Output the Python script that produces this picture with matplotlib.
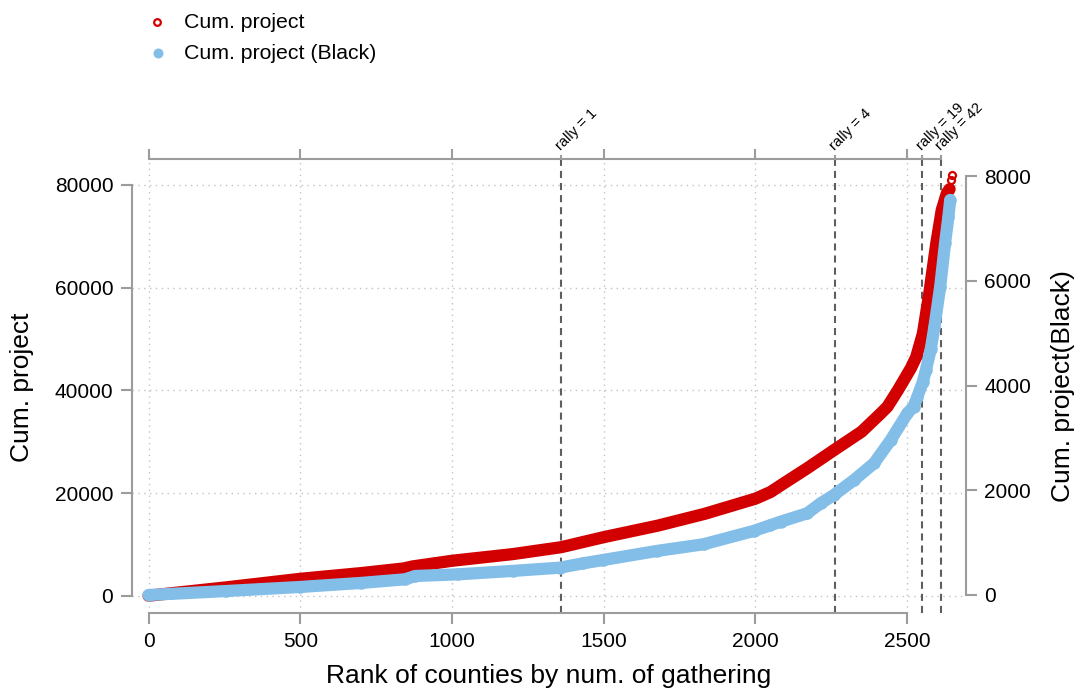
import matplotlib
matplotlib.use("Agg")
import matplotlib.pyplot as plt
from matplotlib.lines import Line2D

plt.rcParams['font.family'] = ['Liberation Sans', 'DejaVu Sans']

# Cumulative project totals, counties ranked by number of gatherings
rank_all = [0, 260, 500, 700, 840, 870, 1000, 1200, 1360, 1500, 1680, 1833,
            2000, 2050, 2085, 2170, 2260, 2350, 2413, 2435, 2470, 2512, 2530,
            2552, 2573, 2596, 2614, 2631, 2640]
cum_project = [0, 1650, 3290, 4400, 5300, 5700, 6800, 8100, 9450, 11400, 13670,
               15950, 18900, 20200, 21560, 24800, 28400, 31950, 35500, 36800,
               40070, 44290, 46500, 51100, 58900, 68600, 75100, 78400, 79200]
# Last few counties, drawn as separate circles
rank_tail = [2646, 2647]
cum_project_tail = [80970, 81950]

# Cumulative project totals for the Black population
rank_black = [0, 257, 499, 700, 846, 879, 1021, 1200, 1356, 1433, 1499, 1675,
              1829, 1994, 2049, 2083, 2171, 2215, 2259, 2325, 2391, 2446, 2501,
              2521, 2534, 2552, 2562, 2578, 2590, 2609, 2625, 2636, 2642]
cum_project_black = [0, 76, 153, 230, 300, 363, 395, 460, 522, 606, 669, 841,
                     969, 1223, 1332, 1400, 1561, 1752, 1911, 2197, 2516, 2961,
                     3472, 3598, 3789, 4075, 4299, 4700, 5126, 5890, 6720, 7228,
                     7547]

# Rank at which the number of rallies reaches each threshold
rally_rank = [1360, 2263, 2550, 2612]
rally_labels = ["rally = 1", "rally = 4", "rally = 19", "rally = 42"]

x_ticks = [0, 500, 1000, 1500, 2000, 2500]
y_ticks = [0, 20000, 40000, 60000, 80000]
y_ticks_black = [0, 2000, 4000, 6000, 8000]

RED = "#D20000"
BLUE = "#82BEE8"
AXIS_GREY = "#9C9C9C"
GRID_GREY = "#C2C2C2"
DASH_GREY = "#5E5E5E"

W, H = 1080, 690
fig = plt.figure(figsize=(W / 100, H / 100), dpi=100)
ax = fig.add_axes([132 / W, 1 - 613 / H, (966 - 132) / W, (613 - 158.5) / H])
ax.set_xlim(-54.4, 2694)
ax.set_ylim(-3370, 85157)
ax.patch.set_visible(False)

# dotted reference grid
for xv in x_ticks:
    ax.axvline(xv, color=GRID_GREY, lw=1.0, dashes=(1, 3.2), zorder=0)
for yv in y_ticks:
    ax.axhline(yv, color=GRID_GREY, lw=1.0, dashes=(1, 3.2), zorder=0)

# rally thresholds
for r in rally_rank:
    ax.axvline(r, color=DASH_GREY, lw=1.5, dashes=(3.4, 2.4), zorder=1)

ax.plot(rank_all, cum_project, color=RED, lw=8.8, solid_capstyle='round',
        solid_joinstyle='round', zorder=3)
ax.plot(rank_tail, cum_project_tail, ls='none', marker='o', ms=5, mfc='none',
        mec=RED, mew=1.6, zorder=3)

ax.set_xticks(x_ticks)
ax.set_yticks(y_ticks)
ax.set_xticklabels([str(v) for v in x_ticks])
ax.set_yticklabels([str(v) for v in y_ticks])
for side in ('top', 'right'):
    ax.spines[side].set_visible(False)
ax.spines['left'].set_bounds(0, 80000)
ax.spines['bottom'].set_bounds(0, 2500)
for side in ('left', 'bottom'):
    ax.spines[side].set_color(AXIS_GREY)
    ax.spines[side].set_linewidth(1.5)
ax.tick_params(axis='both', direction='out', length=8, width=1.5,
               color=AXIS_GREY, labelsize=15, labelcolor='black')
ax.tick_params(axis='y', pad=5.5)
ax.tick_params(axis='x', pad=6)

# right-hand axis for the Black population
axb = ax.twinx()
axb.set_ylim(-344, 8338)
axb.plot(rank_black, cum_project_black, color=BLUE, lw=8.8, marker='o', ms=9,
         mec='none', solid_capstyle='round', solid_joinstyle='round', zorder=3)
axb.set_yticks(y_ticks_black)
axb.set_yticklabels([str(v) for v in y_ticks_black])
for side in ('top', 'left', 'bottom'):
    axb.spines[side].set_visible(False)
axb.spines['right'].set_bounds(0, 8000)
axb.spines['right'].set_color(AXIS_GREY)
axb.spines['right'].set_linewidth(1.5)
axb.tick_params(axis='y', direction='out', length=8, width=1.5,
                color=AXIS_GREY, labelsize=15, labelcolor='black', pad=5)

# top axis carrying the rally markers
axt = ax.twiny()
axt.set_xlim(ax.get_xlim())
for side in ('bottom', 'left', 'right'):
    axt.spines[side].set_visible(False)
axt.spines['top'].set_bounds(0, rally_rank[-1])
axt.spines['top'].set_color(AXIS_GREY)
axt.spines['top'].set_linewidth(1.5)
axt.set_xticks(x_ticks)
axt.set_xticks(rally_rank, minor=True)
axt.tick_params(axis='x', which='major', direction='out', length=7, width=1.5,
                color=AXIS_GREY, labeltop=False)
axt.tick_params(axis='x', which='minor', direction='out', length=3, width=1.5,
                color=AXIS_GREY, labeltop=False)

for r, lab in zip(rally_rank, rally_labels):
    ax.annotate(lab, xy=(r, 1), xycoords=('data', 'axes fraction'),
                xytext=(1, 4), textcoords='offset points', rotation=45,
                rotation_mode='anchor', ha='left', va='bottom', fontsize=10.5,
                color='black')

# axis titles
fig.text(549 / W, 1 - 676 / H, "Rank of counties by num. of gathering",
         ha='center', va='center', fontsize=19)
fig.text(22 / W, 1 - 387 / H, "Cum. project", rotation=90,
         ha='center', va='center', fontsize=19)
fig.text(1063 / W, 1 - 386 / H, "Cum. project(Black)", rotation=90,
         ha='center', va='center', fontsize=19)

# legend
fig.add_artist(Line2D([157 / W], [1 - 21.7 / H], transform=fig.transFigure,
                      ls='none', marker='o', ms=4.8, mfc='none', mec=RED,
                      mew=1.6))
fig.add_artist(Line2D([157.5 / W], [1 - 52.8 / H], transform=fig.transFigure,
                      ls='none', marker='o', ms=7.2, mfc=BLUE, mec='none'))
fig.text(184 / W, 1 - 27.5 / H, "Cum. project", ha='left', va='baseline',
         fontsize=15.3)
fig.text(184 / W, 1 - 58.8 / H, "Cum. project (Black)", ha='left',
         va='baseline', fontsize=15.3)

fig.savefig("out.png", dpi=100)
